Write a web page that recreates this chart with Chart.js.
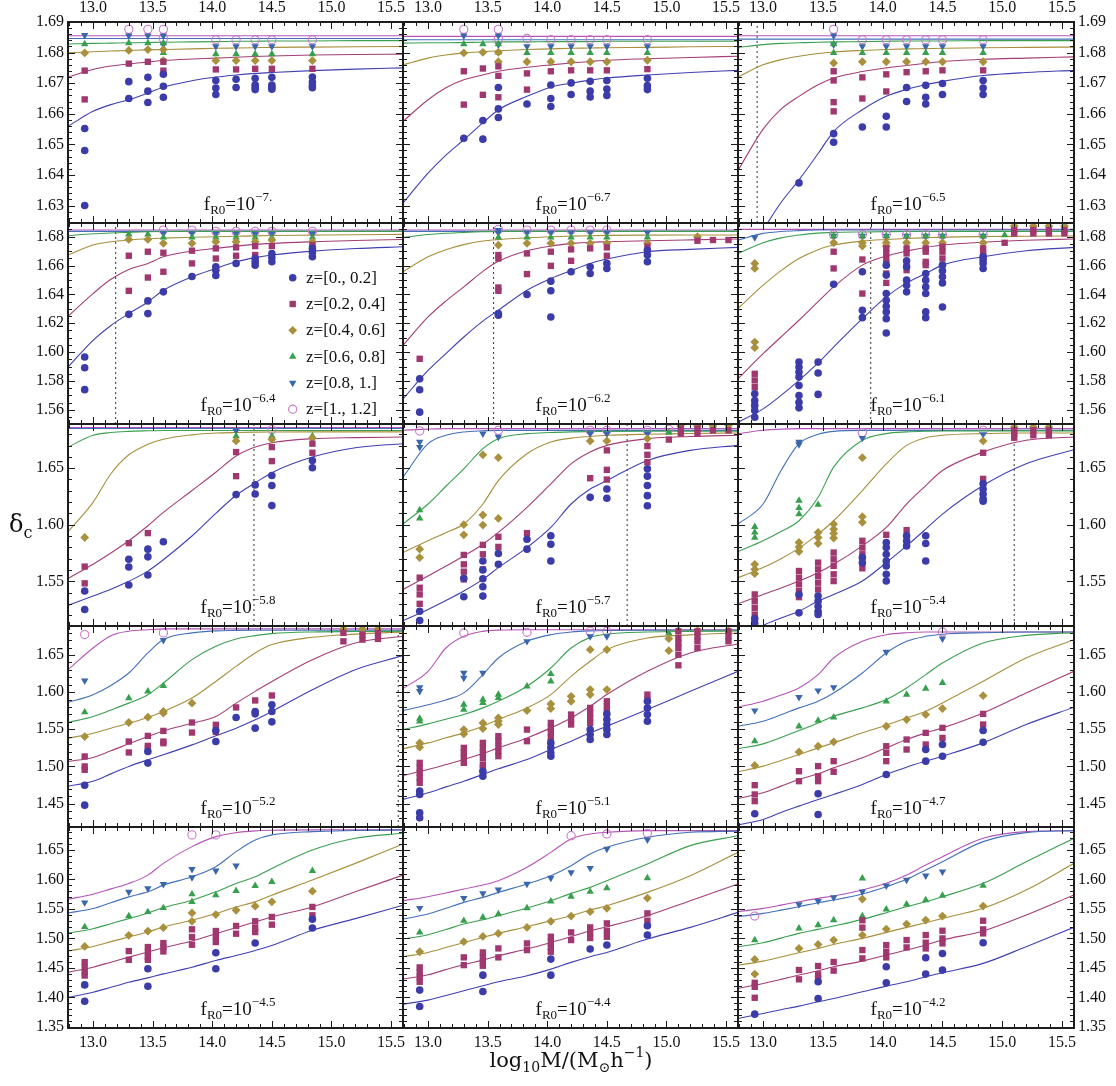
<!DOCTYPE html>
<html>
<head>
<meta charset="utf-8">
<script src="https://cdn.jsdelivr.net/npm/chart.js@4.4.1/dist/chart.umd.min.js"></script>
<style>
  body { margin: 0; background: #fff; }
  #fig { position: relative; width: 1116px; height: 1086px; overflow: hidden; font-family: 'Liberation Serif', serif; color: #111; }
  #fig canvas { position: absolute; }
  .txt { position: absolute; white-space: nowrap; line-height: 1; z-index: 5; }
  .plab { font-size: 19px; transform: translateX(-50%); }
  .plab sub, .plab sup { font-size: 13px; line-height: 0; }
  .plab sub { vertical-align: -0.3em; }
  .plab sup { vertical-align: 0.7em; }
  .leg { font-size: 17px; }
  #xlab { font-family: 'DejaVu Serif', serif; font-size: 21px; transform: translateX(-50%); }
  #xlab sub, #xlab sup { font-size: 14px; line-height: 0; }
  #xlab sub { vertical-align: -0.35em; }
  #xlab sup { vertical-align: 0.7em; }
  #ylab { font-family: 'DejaVu Serif', serif; font-size: 24px; }
  #ylab sub { vertical-align: -0.4em; font-size: 16px; line-height: 0; }
</style>
</head>
<body>
<div id="fig"></div>
<script>
// sample positions of the model curves (log10 M)
const curveX = [12.79, 13.0, 13.15, 13.3, 13.46, 13.59, 13.83, 14.03, 14.2, 14.36, 14.5, 14.84, 15.2, 15.6];

// panel labels (exponent of f_R0), left-to-right, top-to-bottom
const fR0Exp = ['−7.', '−6.7', '−6.5', '−6.4', '−6.2', '−6.1', '−5.8', '−5.7', '−5.4', '−5.2', '−5.1', '−4.7', '−4.5', '−4.4', '−4.2'];
const zLabels = ['z=[0., 0.2]', 'z=[0.2, 0.4]', 'z=[0.4, 0.6]', 'z=[0.6, 0.8]', 'z=[0.8, 1.]', 'z=[1., 1.2]'];

// dotted vertical marker per panel
const dashX = [null, null, 12.95, 13.19, 13.55, 13.90, 14.35, 14.67, 15.10, 15.56, null, null, null, null, null];

// axes
const xTicks = [13.0, 13.5, 14.0, 14.5, 15.0, 15.5];
const rowYMin = [1.6243, 1.5502, 1.5105, 1.4185, 1.348];
const rowYMax = [1.69, 1.6895, 1.689, 1.689, 1.689];
const rowYTicks = [
  [1.63, 1.64, 1.65, 1.66, 1.67, 1.68, 1.69],
  [1.56, 1.58, 1.60, 1.62, 1.64, 1.66, 1.68],
  [1.55, 1.60, 1.65],
  [1.45, 1.50, 1.55, 1.60, 1.65],
  [1.35, 1.40, 1.45, 1.50, 1.55, 1.60, 1.65]
];
const rowYMinor = [0.002, 0.005, 0.01, 0.01, 0.01];

// model curves, one row per panel, values at curveX
const curveZ0 = [
  [1.6559,1.6608,1.6630,1.6646,1.6668,1.6687,1.6708,1.6720,1.6727,1.6732,1.6735,1.6741,1.6746,1.6750],
  [1.6308,1.6406,1.6465,1.6515,1.6570,1.6613,1.6657,1.6687,1.6700,1.6710,1.6717,1.6727,1.6735,1.6742],
  [1.6090,1.6220,1.6310,1.6384,1.6470,1.6542,1.6613,1.6657,1.6680,1.6695,1.6706,1.6725,1.6735,1.6742],
  [1.5896,1.6082,1.6185,1.6267,1.6348,1.6429,1.6522,1.6580,1.6626,1.6655,1.6673,1.6700,1.6718,1.6730],
  [1.5676,1.5873,1.5990,1.6105,1.6215,1.6290,1.6429,1.6510,1.6565,1.6615,1.6645,1.6696,1.6712,1.6726],
  [1.5514,1.5607,1.5700,1.5804,1.5925,1.6035,1.6232,1.6383,1.6480,1.6545,1.6603,1.6661,1.6703,1.6726],
  [1.5287,1.5370,1.5430,1.5500,1.5590,1.5690,1.5900,1.6100,1.6260,1.6370,1.6460,1.6598,1.6680,1.6716],
  [1.5153,1.5251,1.5330,1.5414,1.5517,1.5621,1.5798,1.5976,1.6183,1.6316,1.6390,1.6568,1.6657,1.6701],
  [1.4990,1.5110,1.5175,1.5236,1.5325,1.5384,1.5502,1.5665,1.5813,1.5961,1.6094,1.6346,1.6538,1.6663],
  [1.4733,1.4800,1.4900,1.5000,1.5090,1.5157,1.5290,1.5413,1.5515,1.5627,1.5740,1.6032,1.6302,1.6491],
  [1.4556,1.4645,1.4725,1.4802,1.4892,1.4968,1.5093,1.5228,1.5340,1.5452,1.5541,1.5765,1.6012,1.6280],
  [1.4211,1.4287,1.4380,1.4466,1.4556,1.4623,1.4757,1.4892,1.4990,1.5071,1.5138,1.5317,1.5564,1.5797],
  [1.4001,1.4086,1.4170,1.4256,1.4330,1.4398,1.4512,1.4626,1.4711,1.4796,1.4881,1.5137,1.5336,1.5563],
  [1.3885,1.3953,1.4030,1.4112,1.4196,1.4264,1.4366,1.4479,1.4593,1.4689,1.4762,1.4989,1.5187,1.5442],
  [1.3642,1.3727,1.3790,1.3851,1.3925,1.3981,1.4095,1.4191,1.4264,1.4349,1.4417,1.4576,1.4859,1.5187]
];
const curveZ1 = [
  [1.6720,1.6745,1.6756,1.6763,1.6769,1.6774,1.6779,1.6782,1.6785,1.6787,1.6789,1.6792,1.6794,1.6795],
  [1.6575,1.6646,1.6685,1.6711,1.6727,1.6739,1.6752,1.6760,1.6766,1.6771,1.6775,1.6780,1.6784,1.6788],
  [1.6415,1.6550,1.6615,1.6657,1.6695,1.6717,1.6738,1.6750,1.6758,1.6765,1.6771,1.6778,1.6782,1.6786],
  [1.6249,1.6406,1.6505,1.6573,1.6615,1.6661,1.6700,1.6719,1.6735,1.6747,1.6754,1.6765,1.6774,1.6781],
  [1.6047,1.6244,1.6355,1.6452,1.6560,1.6630,1.6703,1.6735,1.6752,1.6762,1.6765,1.6772,1.6778,1.6784],
  [1.5815,1.5989,1.6105,1.6221,1.6350,1.6452,1.6603,1.6666,1.6700,1.6725,1.6742,1.6762,1.6775,1.6784],
  [1.5524,1.5651,1.5750,1.5858,1.5991,1.6109,1.6302,1.6464,1.6607,1.6686,1.6725,1.6760,1.6770,1.6775],
  [1.5428,1.5547,1.5635,1.5724,1.5828,1.5932,1.6154,1.6361,1.6538,1.6642,1.6701,1.6760,1.6780,1.6790],
  [1.5301,1.5384,1.5440,1.5502,1.5576,1.5650,1.5813,1.5976,1.6183,1.6346,1.6479,1.6642,1.6746,1.6775],
  [1.5067,1.5121,1.5210,1.5304,1.5402,1.5478,1.5580,1.5672,1.5852,1.6010,1.6144,1.6437,1.6662,1.6752],
  [1.4878,1.4959,1.5025,1.5093,1.5174,1.5250,1.5384,1.5519,1.5653,1.5810,1.5967,1.6280,1.6527,1.6648],
  [1.4569,1.4645,1.4735,1.4824,1.4901,1.4981,1.5116,1.5250,1.5362,1.5452,1.5519,1.5720,1.5989,1.6280],
  [1.4427,1.4512,1.4597,1.4682,1.4768,1.4841,1.4955,1.5080,1.5182,1.5279,1.5364,1.5534,1.5790,1.6074],
  [1.4310,1.4383,1.4470,1.4553,1.4632,1.4706,1.4819,1.4932,1.5028,1.5130,1.5198,1.5385,1.5640,1.5923],
  [1.4151,1.4236,1.4305,1.4378,1.4451,1.4519,1.4615,1.4717,1.4802,1.4887,1.4972,1.5125,1.5396,1.5736]
];
const curveZ2 = [
  [1.6799,1.6803,1.6805,1.6807,1.6809,1.6810,1.6812,1.6814,1.6815,1.6816,1.6817,1.6818,1.6819,1.6820],
  [1.6760,1.6782,1.6792,1.6799,1.6803,1.6806,1.6810,1.6812,1.6814,1.6815,1.6816,1.6817,1.6819,1.6820],
  [1.6720,1.6760,1.6777,1.6788,1.6797,1.6802,1.6807,1.6810,1.6812,1.6813,1.6814,1.6816,1.6817,1.6818],
  [1.6673,1.6742,1.6765,1.6777,1.6786,1.6790,1.6796,1.6800,1.6803,1.6806,1.6808,1.6811,1.6814,1.6816],
  [1.6557,1.6661,1.6710,1.6745,1.6770,1.6780,1.6792,1.6800,1.6804,1.6807,1.6809,1.6811,1.6812,1.6812],
  [1.6302,1.6464,1.6565,1.6649,1.6710,1.6742,1.6770,1.6781,1.6788,1.6793,1.6797,1.6801,1.6803,1.6805],
  [1.5938,1.6198,1.6450,1.6618,1.6710,1.6755,1.6794,1.6810,1.6815,1.6818,1.6819,1.6820,1.6820,1.6820],
  [1.5754,1.5858,1.5930,1.6006,1.6183,1.6390,1.6627,1.6731,1.6765,1.6780,1.6790,1.6800,1.6806,1.6811],
  [1.5532,1.5621,1.5700,1.5793,1.5917,1.6035,1.6302,1.6538,1.6701,1.6769,1.6790,1.6805,1.6810,1.6811],
  [1.5380,1.5447,1.5515,1.5582,1.5660,1.5740,1.5920,1.6144,1.6347,1.6527,1.6640,1.6738,1.6780,1.6810],
  [1.5237,1.5317,1.5385,1.5452,1.5541,1.5631,1.5788,1.5967,1.6213,1.6415,1.6572,1.6728,1.6770,1.6796],
  [1.4928,1.5004,1.5080,1.5160,1.5250,1.5317,1.5452,1.5555,1.5653,1.5743,1.5855,1.6146,1.6460,1.6706],
  [1.4785,1.4864,1.4945,1.5023,1.5108,1.5194,1.5307,1.5421,1.5534,1.5620,1.5733,1.5989,1.6273,1.6602],
  [1.4689,1.4762,1.4845,1.4932,1.5017,1.5085,1.5198,1.5300,1.5385,1.5481,1.5555,1.5781,1.6064,1.6460],
  [1.4547,1.4615,1.4685,1.4757,1.4830,1.4898,1.5000,1.5102,1.5187,1.5266,1.5340,1.5510,1.5820,1.6274]
];
const curveZ3 = [
  [1.6828,1.6830,1.6831,1.6832,1.6833,1.6834,1.6835,1.6836,1.6837,1.6837,1.6838,1.6838,1.6839,1.6839],
  [1.6831,1.6832,1.6832,1.6833,1.6834,1.6835,1.6835,1.6836,1.6836,1.6836,1.6837,1.6837,1.6837,1.6837],
  [1.6817,1.6826,1.6830,1.6832,1.6834,1.6835,1.6836,1.6837,1.6838,1.6838,1.6838,1.6839,1.6839,1.6839],
  [1.6807,1.6820,1.6826,1.6830,1.6834,1.6836,1.6837,1.6837,1.6837,1.6837,1.6837,1.6837,1.6837,1.6837],
  [1.6795,1.6815,1.6824,1.6830,1.6835,1.6837,1.6837,1.6837,1.6837,1.6837,1.6837,1.6837,1.6837,1.6837],
  [1.6684,1.6758,1.6792,1.6812,1.6825,1.6830,1.6833,1.6835,1.6836,1.6836,1.6837,1.6837,1.6837,1.6837],
  [1.6686,1.6790,1.6815,1.6825,1.6830,1.6833,1.6833,1.6833,1.6833,1.6833,1.6833,1.6833,1.6833,1.6833],
  [1.6006,1.6183,1.6340,1.6494,1.6672,1.6760,1.6805,1.6815,1.6820,1.6823,1.6825,1.6826,1.6826,1.6826],
  [1.5763,1.5858,1.5940,1.6035,1.6242,1.6509,1.6746,1.6805,1.6820,1.6826,1.6828,1.6829,1.6829,1.6829],
  [1.5591,1.5672,1.5760,1.5852,1.5965,1.6122,1.6437,1.6617,1.6716,1.6760,1.6788,1.6810,1.6815,1.6819],
  [1.5496,1.5573,1.5635,1.5698,1.5788,1.5877,1.6079,1.6325,1.6594,1.6737,1.6782,1.6810,1.6818,1.6822],
  [1.5237,1.5304,1.5390,1.5483,1.5586,1.5676,1.5788,1.5900,1.6056,1.6236,1.6392,1.6661,1.6764,1.6800],
  [1.5091,1.5165,1.5250,1.5336,1.5432,1.5523,1.5648,1.5790,1.5932,1.6046,1.6188,1.6500,1.6699,1.6784],
  [1.4989,1.5062,1.5150,1.5243,1.5317,1.5385,1.5515,1.5640,1.5764,1.5866,1.5979,1.6262,1.6574,1.6743],
  [1.4859,1.4927,1.5005,1.5085,1.5153,1.5210,1.5323,1.5436,1.5538,1.5623,1.5708,1.5934,1.6300,1.6698]
];
const curveZ4 = [
  [1.6846,1.6846,1.6846,1.6846,1.6846,1.6846,1.6846,1.6846,1.6846,1.6846,1.6846,1.6846,1.6846,1.6846],
  [1.6842,1.6842,1.6842,1.6842,1.6842,1.6842,1.6842,1.6842,1.6842,1.6842,1.6842,1.6842,1.6842,1.6842],
  [1.6844,1.6844,1.6844,1.6844,1.6844,1.6844,1.6844,1.6844,1.6844,1.6844,1.6844,1.6844,1.6844,1.6844],
  [1.6837,1.6837,1.6837,1.6837,1.6837,1.6837,1.6837,1.6837,1.6837,1.6837,1.6837,1.6837,1.6837,1.6837],
  [1.6837,1.6837,1.6837,1.6837,1.6837,1.6837,1.6837,1.6837,1.6837,1.6837,1.6837,1.6837,1.6837,1.6837],
  [1.6777,1.6823,1.6836,1.6842,1.6846,1.6846,1.6846,1.6846,1.6846,1.6846,1.6846,1.6846,1.6846,1.6846],
  [1.6850,1.6850,1.6850,1.6850,1.6850,1.6850,1.6850,1.6850,1.6850,1.6850,1.6850,1.6850,1.6850,1.6850],
  [1.6420,1.6716,1.6790,1.6820,1.6830,1.6834,1.6834,1.6834,1.6834,1.6834,1.6834,1.6834,1.6834,1.6834],
  [1.6006,1.6183,1.6479,1.6716,1.6799,1.6825,1.6834,1.6834,1.6834,1.6834,1.6834,1.6834,1.6834,1.6834],
  [1.5861,1.5965,1.6090,1.6257,1.6527,1.6707,1.6797,1.6825,1.6831,1.6833,1.6833,1.6833,1.6833,1.6833],
  [1.5752,1.5830,1.5895,1.5990,1.6236,1.6460,1.6684,1.6773,1.6810,1.6825,1.6830,1.6832,1.6832,1.6832],
  [1.5541,1.5608,1.5695,1.5788,1.5877,1.5989,1.6258,1.6527,1.6684,1.6751,1.6780,1.6800,1.6809,1.6809],
  [1.5432,1.5506,1.5605,1.5705,1.5790,1.5904,1.6046,1.6216,1.6472,1.6670,1.6756,1.6812,1.6830,1.6841],
  [1.5328,1.5413,1.5510,1.5611,1.5696,1.5781,1.5923,1.6064,1.6234,1.6432,1.6545,1.6715,1.6800,1.6820],
  [1.5368,1.5425,1.5480,1.5538,1.5606,1.5651,1.5753,1.5877,1.6002,1.6160,1.6302,1.6642,1.6794,1.6828]
];
const curveZ5 = [
  [1.6855,1.6855,1.6855,1.6855,1.6855,1.6855,1.6855,1.6855,1.6855,1.6855,1.6855,1.6855,1.6855,1.6855],
  [1.6853,1.6853,1.6853,1.6853,1.6853,1.6853,1.6853,1.6853,1.6853,1.6853,1.6853,1.6853,1.6853,1.6853],
  [1.6855,1.6855,1.6855,1.6855,1.6855,1.6855,1.6855,1.6855,1.6855,1.6855,1.6855,1.6855,1.6855,1.6855],
  [1.6846,1.6846,1.6846,1.6846,1.6846,1.6846,1.6846,1.6846,1.6846,1.6846,1.6846,1.6846,1.6846,1.6846],
  [1.6846,1.6846,1.6846,1.6846,1.6846,1.6846,1.6846,1.6846,1.6846,1.6846,1.6846,1.6846,1.6846,1.6846],
  [1.6851,1.6851,1.6851,1.6851,1.6851,1.6851,1.6851,1.6851,1.6851,1.6851,1.6851,1.6851,1.6851,1.6851],
  [1.6858,1.6858,1.6858,1.6858,1.6858,1.6858,1.6858,1.6858,1.6858,1.6858,1.6858,1.6858,1.6858,1.6858],
  [1.6835,1.6845,1.6849,1.6849,1.6849,1.6849,1.6849,1.6849,1.6849,1.6849,1.6849,1.6849,1.6849,1.6849],
  [1.6805,1.6835,1.6845,1.6849,1.6849,1.6849,1.6849,1.6849,1.6849,1.6849,1.6849,1.6849,1.6849,1.6849],
  [1.6302,1.6594,1.6760,1.6820,1.6840,1.6851,1.6851,1.6851,1.6851,1.6851,1.6851,1.6851,1.6851,1.6851],
  [1.6048,1.6280,1.6594,1.6751,1.6818,1.6835,1.6840,1.6840,1.6840,1.6840,1.6840,1.6840,1.6840,1.6840],
  [1.5797,1.5877,1.5960,1.6056,1.6236,1.6460,1.6684,1.6773,1.6800,1.6809,1.6809,1.6809,1.6809,1.6809],
  [1.5665,1.5750,1.5840,1.5932,1.6074,1.6273,1.6557,1.6727,1.6795,1.6825,1.6835,1.6841,1.6841,1.6841],
  [1.5640,1.5708,1.5770,1.5838,1.5906,1.5979,1.6206,1.6460,1.6687,1.6772,1.6800,1.6828,1.6828,1.6828],
  [1.5453,1.5510,1.5565,1.5623,1.5679,1.5719,1.5821,1.5934,1.6076,1.6245,1.6387,1.6698,1.6811,1.6828]
];

// simulation points: per panel, groups of [log10 M, delta_c values...]
const ptsZ0 = [
  [[12.93,1.6552,1.6480,1.6300],[13.30,1.6705,1.6650],[13.46,1.6719,1.6674,1.6637],[13.59,1.6729,1.6690,1.6654],[14.03,1.6709,1.6684,1.6663],[14.20,1.6713,1.6686],[14.36,1.6716,1.6695,1.6687,1.6679],[14.50,1.6719,1.6694,1.6687,1.6680],[14.84,1.6720,1.6704,1.6692,1.6685]],
  [[13.30,1.6520],[13.46,1.6578,1.6517],[13.59,1.6686,1.6616,1.6588],[13.83,1.6632],[14.03,1.6694,1.6650,1.6624],[14.20,1.6701,1.6663],[14.36,1.6706,1.6674,1.6655],[14.50,1.6709,1.6681,1.6660],[14.84,1.6716,1.6692,1.6679]],
  [[13.30,1.6374],[13.59,1.6535,1.6507],[13.83,1.6557],[14.03,1.6592,1.6557],[14.20,1.6686,1.6640],[14.36,1.6693,1.6654,1.6632],[14.50,1.6699,1.6663],[14.84,1.6709,1.6684,1.6663]],
  [[12.93,1.5966,1.5892,1.5740],[13.30,1.6262],[13.46,1.6355,1.6267],[13.59,1.6418],[13.83,1.6524],[14.03,1.6591,1.6568,1.6531],[14.20,1.6615],[14.36,1.6649,1.6626,1.6603],[14.50,1.6684,1.6656,1.6626],[14.84,1.6719,1.6691,1.6661]],
  [[12.93,1.5815,1.5739,1.5584],[13.59,1.6267,1.6256],[13.83,1.6399],[14.03,1.6492,1.6425,1.6244],[14.20,1.6557],[14.36,1.6591,1.6545],[14.50,1.6615,1.6580],[14.84,1.6707,1.6673,1.6626]],
  [[12.93,1.5711,1.5665,1.5630,1.5595,1.5549],[13.30,1.5931,1.5897,1.5862,1.5827,1.5769,1.5700,1.5653,1.5614],[13.46,1.5931,1.5855,1.5707],[13.59,1.6471],[13.83,1.6557,1.6290,1.6239],[14.03,1.6603,1.6534,1.6406,1.6360,1.6318,1.6279,1.6232,1.6133],[14.20,1.6633,1.6591,1.6499,1.6464,1.6418],[14.36,1.6545,1.6499,1.6452,1.6406,1.6279,1.6239],[14.50,1.6603,1.6564,1.6522,1.6480,1.6313],[14.84,1.6661,1.6638,1.6615,1.6580]],
  [[12.93,1.5414,1.5251],[13.30,1.5695,1.5627,1.5467],[13.46,1.5784,1.5716,1.5556],[13.59,1.5849],[14.20,1.6266],[14.36,1.6352,1.6272],[14.50,1.6435,1.6346,1.6169],[14.84,1.6568,1.6503]],
  [[12.93,1.5236,1.5153],[13.30,1.5526,1.5363],[13.46,1.5680,1.5600,1.5523,1.5452,1.5369],[13.59,1.5745,1.5650],[13.83,1.5872,1.5784],[14.03,1.5902,1.5828,1.5680],[14.36,1.6242],[14.50,1.6316,1.6234],[14.84,1.6494,1.6429,1.6346,1.6257,1.6168]],
  [[12.93,1.5171,1.5132],[13.30,1.5384,1.5221],[13.46,1.5369,1.5325,1.5280,1.5236,1.5206],[13.83,1.5710,1.5665],[14.03,1.5843,1.5798,1.5739,1.5680,1.5636,1.5562,1.5502],[14.20,1.5902,1.5858,1.5813],[14.36,1.5902,1.5834,1.5680],[14.84,1.6361,1.6316,1.6272,1.6228,1.6207]],
  [[12.93,1.4746,1.4479],[13.46,1.5201,1.5045],[14.03,1.5482,1.5335],[14.20,1.5658],[14.36,1.5740,1.5708,1.5515],[14.50,1.5830,1.5740,1.5600]],
  [[12.93,1.4668,1.4623,1.4377,1.4309],[13.46,1.4936,1.4869],[14.03,1.5317,1.5250,1.5183,1.5138],[14.36,1.5496,1.5429,1.5362],[14.50,1.5707,1.5631,1.5564,1.5496,1.5429],[14.84,1.5877,1.5788,1.5698,1.5608]],
  [[12.93,1.4363],[13.46,1.4632,1.4354],[14.03,1.4892],[14.36,1.5228,1.5071],[14.50,1.5295,1.5138],[14.84,1.5483,1.5326]],
  [[12.93,1.4211,1.3933],[13.46,1.4484,1.4188],[14.03,1.4756,1.4484],[14.36,1.4921],[14.84,1.5324,1.5177]],
  [[12.93,1.4123,1.3845],[13.46,1.4377,1.4100],[14.03,1.4649,1.4377],[14.36,1.4819],[14.50,1.4887],[14.84,1.5215,1.5057]],
  [[12.93,1.3715],[13.46,1.4264,1.3981],[14.03,1.4519,1.4247],[14.36,1.4672,1.4394],[14.50,1.4745,1.4462],[14.84,1.4927]]
];
const ptsZ1 = [
  [[12.93,1.6741,1.6647],[13.30,1.6764],[13.46,1.6770],[13.59,1.6770,1.6741],[14.03,1.6745],[14.20,1.6745],[14.36,1.6747],[14.50,1.6747],[14.84,1.6747]],
  [[13.30,1.6739,1.6630],[13.46,1.6748,1.6662],[13.59,1.6755,1.6724,1.6654],[13.83,1.6732,1.6679],[14.03,1.6739],[14.20,1.6742],[14.36,1.6742],[14.50,1.6742],[14.84,1.6746]],
  [[13.59,1.6739,1.6709,1.6638,1.6608],[13.83,1.6719,1.6650],[14.03,1.6729,1.6673],[14.20,1.6736],[14.36,1.6739],[14.50,1.6742],[14.84,1.6742]],
  [[13.30,1.6668,1.6425],[13.46,1.6696,1.6517],[13.59,1.6689,1.6557],[13.83,1.6703,1.6615],[14.03,1.6719,1.6649],[14.20,1.6726,1.6668],[14.36,1.6735,1.6673],[14.50,1.6735],[14.84,1.6742,1.6726]],
  [[12.93,1.5954],[13.59,1.6673,1.6649,1.6448,1.6425],[13.83,1.6684,1.6541],[14.03,1.6696,1.6598],[14.20,1.6712,1.6633],[14.36,1.6719],[14.50,1.6726,1.6668],[14.84,1.6730],[15.26,1.6772],[15.39,1.6777],[15.52,1.6777]],
  [[12.93,1.5850,1.5804,1.5757,1.5630],[13.59,1.6696,1.6580],[13.83,1.6642,1.6406],[14.03,1.6719,1.6684,1.6649,1.6615,1.6545,1.6480],[14.20,1.6719,1.6684,1.6603,1.6568],[14.36,1.6719,1.6696,1.6626,1.6603],[14.50,1.6730,1.6696,1.6649],[14.84,1.6719,1.6684,1.6661],[15.02,1.6758],[15.10,1.6846,1.6823],[15.26,1.6846,1.6823],[15.39,1.6846,1.6823],[15.52,1.6846,1.6823]],
  [[12.93,1.5630,1.5482],[13.30,1.5837],[13.46,1.5926],[14.20,1.6642,1.6429],[14.50,1.6686,1.6562],[14.84,1.6716,1.6636]],
  [[12.93,1.5532,1.5443,1.5384,1.5301],[13.30,1.5733,1.5650,1.5585,1.5517],[13.46,1.5822,1.5739,1.5606],[13.59,1.5893,1.5804],[13.83,1.5926],[14.36,1.6411],[14.50,1.6657,1.6485,1.6399],[14.84,1.6695,1.6618,1.6553],[15.02,1.6752],[15.12,1.6849,1.6805],[15.26,1.6849,1.6805],[15.39,1.6834],[15.52,1.6834]],
  [[12.93,1.5384,1.5325,1.5266,1.5206,1.5147],[13.30,1.5591,1.5532,1.5473,1.5414,1.5360],[13.46,1.5665,1.5606,1.5547,1.5488,1.5428],[13.59,1.5754,1.5695,1.5636,1.5562,1.5502],[13.83,1.5858,1.5798,1.5739,1.5615],[14.03,1.5911],[14.20,1.5952],[14.84,1.6636,1.6405],[15.10,1.6834,1.6805,1.6769],[15.26,1.6834,1.6790],[15.39,1.6834,1.6790]],
  [[12.93,1.5134,1.5000,1.4955],[13.30,1.5335,1.5188],[13.46,1.5411,1.5277,1.5246],[13.59,1.5478,1.5335,1.5313],[13.83,1.5591,1.5456],[14.03,1.5560,1.5465],[14.20,1.5794],[14.36,1.5888],[14.50,1.5955],[15.10,1.6797,1.6684],[15.26,1.6775,1.6707],[15.39,1.6797,1.6716]],
  [[12.93,1.5048,1.4981,1.4914,1.4847,1.4780],[13.30,1.5250,1.5183,1.5116,1.5048],[13.46,1.5317,1.5250,1.5183,1.5116,1.5026,1.4981],[13.59,1.5407,1.5340,1.5272,1.5205,1.5138],[13.83,1.5496,1.5340],[14.03,1.5586,1.5519,1.5452,1.5384,1.5317],[14.20,1.5698,1.5631,1.5564],[14.36,1.5788,1.5720,1.5653,1.5586],[14.50,1.5877,1.5810,1.5743],[14.84,1.5967,1.5900],[15.10,1.6818,1.6728,1.6661,1.6594,1.6504,1.6361],[15.26,1.6818,1.6751,1.6684,1.6594],[15.52,1.6818,1.6751,1.6684]],
  [[12.93,1.4748,1.4623,1.4533],[13.30,1.4936,1.4802],[13.46,1.5004,1.4869,1.4802],[13.59,1.5071,1.4928],[14.03,1.5272,1.5183,1.5071],[14.20,1.5362,1.5228],[14.36,1.5452,1.5295],[14.50,1.5519,1.5384],[14.84,1.5707,1.5564]],
  [[12.93,1.4597,1.4512,1.4427,1.4370],[13.30,1.4785,1.4637],[13.46,1.4853,1.4768,1.4682,1.4637],[13.59,1.4921,1.4853,1.4779],[13.83,1.5154,1.5023,1.4893],[14.03,1.5125,1.5023,1.4938],[14.20,1.5211,1.5080],[14.36,1.5290,1.5182,1.5108],[14.50,1.5364,1.5233],[14.84,1.5534,1.5392]],
  [[12.93,1.4508,1.4423,1.4338,1.4264],[13.30,1.4678,1.4547],[13.46,1.4762,1.4678,1.4593,1.4536],[13.59,1.4830,1.4678],[13.83,1.4915,1.4802],[14.03,1.5028,1.4932,1.4847,1.4774],[14.20,1.5102,1.4972],[14.36,1.5187,1.5085,1.5006],[14.50,1.5255,1.5130,1.5028],[14.84,1.5425,1.5300]],
  [[12.93,1.4247,1.4179,1.3993],[13.30,1.4464,1.4306],[13.46,1.4532,1.4391,1.4317],[13.59,1.4600,1.4453],[13.83,1.5308,1.5183,1.4802,1.4661],[14.03,1.4887,1.4774,1.4678],[14.20,1.4972,1.4847],[14.36,1.5057,1.4927,1.4830],[14.50,1.5130,1.5000,1.4915],[14.84,1.5300,1.5153,1.5085]]
];
const ptsZ2 = [
  [[12.93,1.6799],[13.30,1.6807],[13.46,1.6810],[13.59,1.6810,1.6774],[14.03,1.6774],[14.20,1.6774],[14.36,1.6774],[14.50,1.6774],[14.84,1.6774]],
  [[13.30,1.6799],[13.46,1.6801],[13.59,1.6801,1.6770],[13.83,1.6770],[14.03,1.6770],[14.20,1.6770],[14.36,1.6770],[14.50,1.6770],[14.84,1.6775]],
  [[13.59,1.6766],[13.83,1.6770],[14.03,1.6770],[14.20,1.6770],[14.36,1.6770],[14.50,1.6770],[14.84,1.6770]],
  [[13.30,1.6781],[13.46,1.6781],[13.59,1.6754],[13.83,1.6754],[14.03,1.6765],[14.20,1.6765],[14.36,1.6765],[14.50,1.6777],[14.84,1.6765]],
  [[13.59,1.6742],[13.83,1.6754],[14.03,1.6754],[14.20,1.6754],[14.36,1.6754],[14.50,1.6754],[14.84,1.6754],[15.26,1.6800]],
  [[12.93,1.6615,1.6580,1.6070,1.6031],[13.59,1.6758],[13.83,1.6758,1.6735],[14.03,1.6758,1.6735],[14.20,1.6758],[14.36,1.6758],[14.50,1.6758],[14.84,1.6758],[15.10,1.6874],[15.26,1.6874],[15.39,1.6874],[15.52,1.6874]],
  [[12.93,1.5887],[14.20,1.6740],[14.50,1.6754],[14.84,1.6766]],
  [[12.93,1.5784,1.5710],[13.30,1.6000,1.5911],[13.46,1.6618,1.6086,1.5997],[13.59,1.6592,1.6056],[14.36,1.6740],[14.50,1.6740],[14.84,1.6760],[15.12,1.6879],[15.26,1.6873],[15.39,1.6873],[15.52,1.6879]],
  [[12.93,1.5650,1.5606,1.5567],[13.30,1.5843,1.5804,1.5763],[13.46,1.5932,1.5887,1.5834],[13.59,1.6006,1.5961,1.5923,1.5882],[13.83,1.6592,1.6071,1.6021],[14.84,1.6740],[15.10,1.6864],[15.26,1.6864],[15.39,1.6864]],
  [[12.93,1.5402],[13.30,1.5591],[13.46,1.5663],[13.59,1.5740,1.5717],[13.83,1.5852],[15.10,1.6851],[15.26,1.6851],[15.39,1.6851]],
  [[12.93,1.5317,1.5259],[13.30,1.5496,1.5438],[13.46,1.5586,1.5510],[13.59,1.5653,1.5608,1.5564],[13.83,1.5752],[14.03,1.5841,1.5779],[14.20,1.5944,1.5877],[14.36,1.6572,1.6034,1.5967],[14.50,1.6572,1.6034],[15.02,1.6720,1.6558],[15.10,1.6827],[15.26,1.6827],[15.52,1.6827]],
  [[12.93,1.5013],[13.30,1.5196],[13.46,1.5272],[13.59,1.5331],[14.03,1.5541],[14.20,1.5631],[14.36,1.5698],[14.50,1.5779],[14.84,1.5953]],
  [[12.93,1.4864],[13.30,1.5052],[13.46,1.5125],[13.59,1.5182],[13.83,1.5432,1.5290],[14.03,1.5404],[14.20,1.5478],[14.36,1.5546],[14.50,1.5620],[14.84,1.5801]],
  [[12.93,1.4774],[13.30,1.4944],[13.46,1.5034],[13.59,1.5085],[13.83,1.5187],[14.03,1.5289],[14.20,1.5379],[14.36,1.5453],[14.50,1.5510],[14.84,1.5685]],
  [[12.93,1.4643,1.4394],[13.30,1.4830],[13.46,1.4898],[13.59,1.4972],[13.83,1.5668,1.5057],[14.03,1.5159],[14.20,1.5243],[14.36,1.5311],[14.50,1.5379],[14.84,1.5549]]
];
const ptsZ3 = [
  [[12.93,1.6828],[13.30,1.6831],[13.46,1.6831],[13.59,1.6831,1.6799],[14.03,1.6795],[14.20,1.6795],[14.36,1.6795],[14.50,1.6795],[14.84,1.6795]],
  [[13.30,1.6828],[13.46,1.6828],[13.59,1.6828,1.6801],[13.83,1.6799],[14.03,1.6799],[14.20,1.6799],[14.36,1.6799],[14.50,1.6799],[14.84,1.6799]],
  [[13.59,1.6828,1.6799],[13.83,1.6799],[14.03,1.6799],[14.20,1.6799],[14.36,1.6799],[14.50,1.6799],[14.84,1.6799]],
  [[13.30,1.6816],[13.46,1.6816],[13.59,1.6795],[13.83,1.6795],[14.03,1.6795],[14.20,1.6795],[14.36,1.6795],[14.50,1.6795],[14.84,1.6795]],
  [[13.59,1.6795],[13.83,1.6795],[14.03,1.6795],[14.20,1.6795],[14.36,1.6795],[14.50,1.6795],[14.84,1.6795]],
  [[13.59,1.6805],[13.83,1.6805],[14.03,1.6805],[14.20,1.6805],[14.36,1.6805],[14.50,1.6805],[14.84,1.6805],[15.02,1.6812]],
  [[14.20,1.6784],[14.50,1.6784],[14.84,1.6784]],
  [[12.93,1.6130,1.6056],[15.02,1.6814]],
  [[12.93,1.5982,1.5932,1.5887],[13.30,1.6213,1.6148,1.6094],[13.46,1.6177]],
  [[12.93,1.5730],[13.30,1.5920],[13.46,1.6010],[13.59,1.6086]],
  [[12.93,1.5644,1.5608],[13.30,1.5833,1.5765],[13.46,1.5900,1.5855],[13.59,1.5967,1.5922],[13.83,1.6079],[14.03,1.6245,1.6146],[15.02,1.6796]],
  [[12.93,1.5340],[13.30,1.5541],[13.46,1.5617],[13.59,1.5662],[14.03,1.5877],[14.20,1.5967],[14.36,1.6048],[14.50,1.6124]],
  [[12.93,1.5194],[13.30,1.5381],[13.46,1.5449],[13.59,1.5517],[13.83,1.5750,1.5620],[14.03,1.5733],[14.20,1.5807],[14.36,1.5892],[14.50,1.5960],[14.84,1.6148]],
  [[12.93,1.5102],[13.30,1.5300],[13.46,1.5357],[13.59,1.5413],[13.83,1.5515],[14.03,1.5628],[14.20,1.5708],[14.36,1.5792],[14.50,1.5855],[14.84,1.6025]],
  [[12.93,1.4972],[13.30,1.5170],[13.46,1.5227],[13.59,1.5311],[13.83,1.6019,1.5379],[14.03,1.5493],[14.20,1.5577],[14.36,1.5651],[14.50,1.5725],[14.84,1.5894]]
];
const ptsZ4 = [
  [[12.93,1.6857],[13.30,1.6855],[13.46,1.6855],[13.59,1.6855,1.6826],[14.03,1.6820],[14.20,1.6820],[14.36,1.6820],[14.50,1.6820],[14.84,1.6820]],
  [[13.30,1.6855],[13.59,1.6855,1.6826],[13.83,1.6820],[14.03,1.6820],[14.20,1.6820],[14.36,1.6820],[14.50,1.6820],[14.84,1.6820]],
  [[13.59,1.6855,1.6826],[13.83,1.6820],[14.03,1.6820],[14.20,1.6820],[14.36,1.6820],[14.50,1.6820],[14.84,1.6820]],
  [[13.59,1.6823],[13.83,1.6823],[14.03,1.6819],[14.20,1.6819],[14.36,1.6819],[14.50,1.6819],[14.84,1.6819]],
  [[13.59,1.6846,1.6828],[13.83,1.6828],[14.03,1.6828],[14.20,1.6828],[14.36,1.6828],[14.50,1.6828],[14.84,1.6828]],
  [[12.93,1.6795],[13.59,1.6805],[13.83,1.6805],[14.03,1.6805],[14.20,1.6805],[14.36,1.6805],[14.50,1.6805],[14.84,1.6805]],
  [[14.20,1.6828]],
  [[12.93,1.6731,1.6686],[13.46,1.6805],[13.59,1.6775],[14.36,1.6805],[14.50,1.6805],[14.84,1.6805]],
  [[13.30,1.6731,1.6710],[13.83,1.6766],[14.84,1.6799]],
  [[12.93,1.6154],[13.59,1.6698]],
  [[12.93,1.6065,1.6012],[13.30,1.6258,1.6191],[13.46,1.6258],[13.83,1.6684],[14.36,1.6751],[14.50,1.6751]],
  [[12.93,1.5752],[13.30,1.5931],[13.46,1.6021],[13.59,1.6065],[14.03,1.6540],[14.50,1.6720]],
  [[12.93,1.5608],[13.30,1.5790],[13.46,1.5847],[13.59,1.5921],[13.83,1.6176,1.6034],[14.03,1.6148],[14.20,1.6233]],
  [[12.93,1.5515],[13.30,1.5685],[13.46,1.5764],[13.59,1.5826],[13.83,1.5923],[14.03,1.6025],[14.20,1.6121],[14.36,1.6194],[14.50,1.6517],[14.84,1.6675]],
  [[13.30,1.5577],[13.46,1.5634],[13.59,1.5696],[13.83,1.5793],[14.03,1.5894],[14.20,1.5991],[14.36,1.6064],[14.50,1.6132]]
];
const ptsZ5 = [
  [[13.30,1.6876],[13.46,1.6876],[13.59,1.6876,1.6846],[14.03,1.6842],[14.20,1.6842],[14.36,1.6842],[14.50,1.6842],[14.84,1.6842]],
  [[13.30,1.6876],[13.59,1.6876,1.6846],[13.83,1.6846],[14.03,1.6842],[14.20,1.6842],[14.36,1.6842],[14.50,1.6842],[14.84,1.6842]],
  [[13.59,1.6876],[13.83,1.6842],[14.03,1.6842],[14.20,1.6842],[14.36,1.6842],[14.50,1.6842],[14.84,1.6842]],
  [[13.59,1.6846],[13.83,1.6846],[14.03,1.6837],[14.20,1.6837],[14.36,1.6837],[14.50,1.6837],[14.84,1.6837]],
  [[13.59,1.6851],[13.83,1.6846],[14.03,1.6846],[14.20,1.6846],[14.36,1.6846],[14.50,1.6846]],
  [[13.59,1.6814],[13.83,1.6814],[14.03,1.6814],[14.20,1.6814],[14.36,1.6814],[14.50,1.6814],[14.84,1.6814]],
  [[14.50,1.6840]],
  [[12.93,1.6829],[13.59,1.6834],[14.36,1.6834],[14.50,1.6834],[14.84,1.6834],[15.02,1.6843]],
  [[13.83,1.6814],[14.84,1.6834]],
  [[12.93,1.6775],[13.59,1.6797]],
  [[13.30,1.6796],[13.83,1.6805],[14.36,1.6818],[14.50,1.6818]],
  [[14.50,1.6809]],
  [[13.83,1.6756],[14.03,1.6756]],
  [[14.20,1.6743],[14.50,1.6772],[14.84,1.6783]],
  [[12.93,1.5379]]
];

const curves = [curveZ0, curveZ1, curveZ2, curveZ3, curveZ4, curveZ5];
const points = [ptsZ0, ptsZ1, ptsZ2, ptsZ3, ptsZ4, ptsZ5];

const markerColor = ['#3b3ba9', '#a0376f', '#a8903d', '#36a04e', '#3a66ad', '#c878c8'];
const lineColor = ['#4040b2', '#a43e78', '#a88f3c', '#3aa04e', '#4270ba', '#b454b8'];
const markerStyle = [
  { style: 'circle', r: 3.8, rot: 0 },
  { style: 'rect', r: 4.5, rot: 0 },
  { style: 'rectRot', r: 4.4, rot: 0 },
  { style: 'triangle', r: 4.3, rot: 0 },
  { style: 'triangle', r: 4.3, rot: 180 },
  { style: 'circle', r: 4.1, rot: 0 }
];

const colEdges = [68, 403, 738, 1074];
const rowEdges = [22, 223, 424, 626, 827, 1028];
const M = 45;
const xMin = 12.79, xMax = 15.6;

Chart.defaults.font.family = "'Liberation Serif', serif";
Chart.defaults.font.size = 16;
Chart.defaults.color = '#111';

const fig = document.getElementById('fig');

function expand(groups) {
  const out = [];
  groups.forEach(g => { for (let i = 1; i < g.length; i++) out.push({ x: g[0], y: g[i] }); });
  return out;
}

function framePlugin(r, withLegend, cvLeft, cvTop) {
  return {
    id: 'frame',
    afterDraw(chart) {
      const { ctx, chartArea: a } = chart;
      const xs = chart.scales.x, ys = chart.scales.y;
      ctx.save();
      ctx.strokeStyle = '#1c1c1c';
      ctx.lineWidth = 1;
      ctx.beginPath();
      for (let k = Math.ceil(xMin * 10 - 1e-6); k <= Math.floor(xMax * 10 + 1e-6); k++) {
        const v = k / 10;
        const len = k % 5 === 0 ? 7 : 4;
        const px = Math.round(xs.getPixelForValue(v)) + 0.5;
        ctx.moveTo(px, a.top); ctx.lineTo(px, a.top + len);
        ctx.moveTo(px, a.bottom); ctx.lineTo(px, a.bottom - len);
      }
      const st = rowYMinor[r];
      for (let k = Math.ceil(rowYMin[r] / st - 1e-6); k <= Math.floor(rowYMax[r] / st + 1e-6); k++) {
        const v = k * st;
        const major = rowYTicks[r].some(t => Math.abs(t - v) < st / 10);
        const len = major ? 7 : 4;
        const py = Math.round(ys.getPixelForValue(v)) + 0.5;
        ctx.moveTo(a.left, py); ctx.lineTo(a.left + len, py);
        ctx.moveTo(a.right, py); ctx.lineTo(a.right - len, py);
      }
      ctx.stroke();
      ctx.lineWidth = 2;
      ctx.strokeRect(a.left, a.top, a.right - a.left, a.bottom - a.top);

      if (withLegend && Chart.helpers && Chart.helpers.drawPoint) {
        for (let z = 0; z < 6; z++) {
          const s = markerStyle[z];
          const cx = 292.7 - cvLeft, cy = 277.7 + 26.3 * z - cvTop;
          ctx.fillStyle = z === 5 ? 'rgba(0,0,0,0)' : markerColor[z];
          ctx.strokeStyle = markerColor[z];
          ctx.lineWidth = 1.1;
          Chart.helpers.drawPoint(ctx, { pointStyle: s.style, radius: s.r, rotation: s.rot, borderWidth: z === 5 ? 1.1 : 0 }, cx, cy);
        }
      }
      ctx.restore();
    }
  };
}

function axis(position, show, isX, r) {
  const o = {
    type: 'linear',
    position: position,
    bounds: 'data',
    min: isX ? xMin : rowYMin[r],
    max: isX ? xMax : rowYMax[r],
    grid: { display: false, drawTicks: false },
    border: { display: false },
    ticks: {
      display: show,
      autoSkip: false,
      maxRotation: 0,
      padding: isX ? 5 : 4,
      color: '#111',
      font: { family: "'Liberation Serif', serif", size: 16 },
      callback: v => isX ? Number(v).toFixed(1) : Number(v).toFixed(2)
    },
    afterBuildTicks: s => { s.ticks = (isX ? xTicks : rowYTicks[r]).map(v => ({ value: v })); }
  };
  if (isX) o.afterFit = s => { s.height = M; };
  else o.afterFit = s => { s.width = M; };
  return o;
}

for (let p = 0; p < 15; p++) {
  const r = Math.floor(p / 3), c = p % 3;
  const L = colEdges[c], R = colEdges[c + 1], T = rowEdges[r], B = rowEdges[r + 1];
  const cv = document.createElement('canvas');
  const cw = R - L + 2 * M, ch = B - T + 2 * M;
  cv.width = cw; cv.height = ch;
  cv.style.left = (L - M) + 'px'; cv.style.top = (T - M) + 'px';
  cv.style.width = cw + 'px'; cv.style.height = ch + 'px';
  fig.appendChild(cv);

  const datasets = [];
  if (dashX[p] !== null) {
    datasets.push({
      data: [{ x: dashX[p], y: rowYMin[r] }, { x: dashX[p], y: rowYMax[r] }],
      showLine: true, borderColor: '#333', borderWidth: 1, borderDash: [2, 3],
      pointRadius: 0, clip: 0, order: 3
    });
  }
  for (let z = 0; z < 6; z++) {
    datasets.push({
      data: curveX.map((x, i) => ({ x: x, y: curves[z][p][i] })),
      showLine: true, borderColor: lineColor[z], borderWidth: 1.1,
      cubicInterpolationMode: 'monotone', pointRadius: 0, fill: false, clip: 0, order: 2
    });
  }
  for (let z = 0; z < 6; z++) {
    const s = markerStyle[z];
    datasets.push({
      data: expand(points[z][p]),
      showLine: false,
      pointStyle: s.style, pointRadius: s.r, pointRotation: s.rot,
      pointBackgroundColor: z === 5 ? 'rgba(0,0,0,0)' : markerColor[z],
      pointBorderColor: markerColor[z],
      pointBorderWidth: z === 5 ? 1.1 : 0,
      clip: 0, order: 1
    });
  }

  new Chart(cv, {
    type: 'scatter',
    data: { datasets },
    options: {
      responsive: false,
      animation: false,
      events: [],
      layout: { padding: 0 },
      plugins: { legend: { display: false }, tooltip: { enabled: false } },
      scales: {
        x: axis('bottom', r === 4, true, r),
        x2: axis('top', r === 0, true, r),
        y: axis('left', c === 0, false, r),
        y2: axis('right', c === 2, false, r)
      }
    },
    plugins: [framePlugin(r, p === 3, L - M, T - M)]
  });

  const lab = document.createElement('div');
  lab.className = 'txt plab';
  lab.style.left = (L + 170) + 'px';
  lab.style.top = (B - 29) + 'px';
  lab.innerHTML = 'f<sub>R0</sub>=10<sup>' + fR0Exp[p] + '</sup>';
  fig.appendChild(lab);
}

// legend text (markers are drawn in panel 4)
zLabels.forEach((t, z) => {
  const d = document.createElement('div');
  d.className = 'txt leg';
  d.style.left = '306px';
  d.style.top = (277.7 + 26.3 * z - 9) + 'px';
  d.textContent = t;
  fig.appendChild(d);
});

const xl = document.createElement('div');
xl.id = 'xlab'; xl.className = 'txt';
xl.style.left = '571px'; xl.style.top = '1050px';
xl.innerHTML = 'log<sub>10</sub>M/(M<sub>⊙</sub>h<sup>−1</sup>)';
fig.appendChild(xl);

const yl = document.createElement('div');
yl.id = 'ylab'; yl.className = 'txt';
yl.style.left = '9px'; yl.style.top = '512px';
yl.innerHTML = 'δ<sub>c</sub>';
fig.appendChild(yl);
</script>
</body>
</html>
